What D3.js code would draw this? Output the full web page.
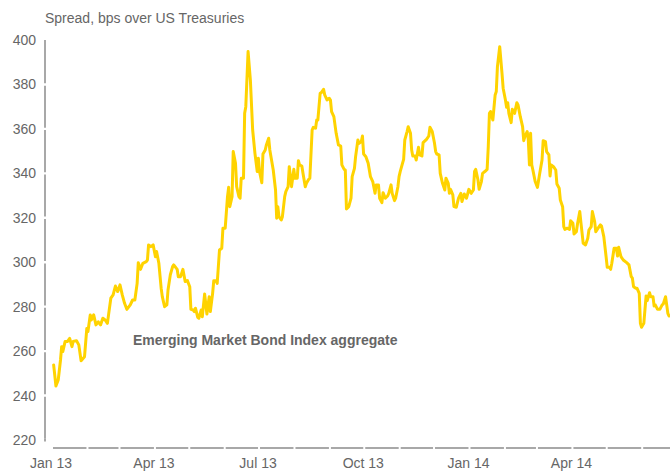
<!DOCTYPE html>
<html>
<head>
<meta charset="utf-8">
<script src="https://cdn.jsdelivr.net/npm/d3@7/dist/d3.min.js"></script>
<style>
  html, body { margin: 0; padding: 0; background: #fff; }
  svg { display: block; font-family: "Liberation Sans", Arial, sans-serif; }
</style>
</head>
<body>
<svg id="chart" width="670" height="473"></svg>
<script>
// EMBI aggregate spread over US Treasuries (bps)
const dates = [
  "2013-01-02","2013-01-04","2013-01-06","2013-01-08","2013-01-09","2013-01-10","2013-01-12","2013-01-14","2013-01-16","2013-01-18",
  "2013-01-19","2013-01-22","2013-01-24","2013-01-26","2013-01-29","2013-01-31","2013-02-01","2013-02-03","2013-02-04","2013-02-06",
  "2013-02-08","2013-02-10","2013-02-12","2013-02-14","2013-02-16","2013-02-18","2013-02-19","2013-02-21","2013-02-23","2013-02-25",
  "2013-02-27","2013-03-01","2013-03-03","2013-03-05","2013-03-07","2013-03-10","2013-03-12","2013-03-14","2013-03-16","2013-03-17",
  "2013-03-19","2013-03-21","2013-03-24","2013-03-25","2013-03-26","2013-03-28","2013-03-30","2013-04-01","2013-04-02","2013-04-04",
  "2013-04-06","2013-04-07","2013-04-09","2013-04-11","2013-04-12","2013-04-14","2013-04-16","2013-04-17","2013-04-20","2013-04-21",
  "2013-04-23","2013-04-25","2013-04-27","2013-04-29","2013-05-01","2013-05-02","2013-05-04","2013-05-05","2013-05-06","2013-05-08",
  "2013-05-09","2013-05-11","2013-05-12","2013-05-14","2013-05-16","2013-05-18","2013-05-19","2013-05-21","2013-05-22","2013-05-24",
  "2013-05-25","2013-05-27","2013-05-29","2013-05-30","2013-06-01","2013-06-03","2013-06-04","2013-06-05","2013-06-07","2013-06-08",
  "2013-06-10","2013-06-11","2013-06-13","2013-06-14","2013-06-15","2013-06-17","2013-06-18","2013-06-19","2013-06-21","2013-06-23",
  "2013-06-25","2013-06-27","2013-06-29","2013-06-30","2013-07-01","2013-07-03","2013-07-04","2013-07-06","2013-07-07","2013-07-09",
  "2013-07-10","2013-07-13","2013-07-15","2013-07-16","2013-07-17","2013-07-18","2013-07-20","2013-07-21","2013-07-23","2013-07-24",
  "2013-07-26","2013-07-27","2013-07-29","2013-07-31","2013-08-01","2013-08-03","2013-08-04","2013-08-05","2013-08-07","2013-08-08",
  "2013-08-10","2013-08-11","2013-08-13","2013-08-14","2013-08-16","2013-08-17","2013-08-19","2013-08-20","2013-08-21","2013-08-23",
  "2013-08-24","2013-08-26","2013-08-27","2013-08-29","2013-08-31","2013-09-01","2013-09-02","2013-09-04","2013-09-06","2013-09-08",
  "2013-09-10","2013-09-11","2013-09-13","2013-09-14","2013-09-15","2013-09-17","2013-09-19","2013-09-20","2013-09-22","2013-09-23",
  "2013-09-25","2013-09-26","2013-09-28","2013-09-29","2013-09-30","2013-10-02","2013-10-04","2013-10-06","2013-10-08","2013-10-10",
  "2013-10-11","2013-10-13","2013-10-14","2013-10-16","2013-10-17","2013-10-19","2013-10-21","2013-10-22","2013-10-24","2013-10-25",
  "2013-10-27","2013-10-28","2013-10-30","2013-10-31","2013-11-01","2013-11-03","2013-11-04","2013-11-05","2013-11-07","2013-11-08",
  "2013-11-10","2013-11-11","2013-11-12","2013-11-14","2013-11-15","2013-11-17","2013-11-18","2013-11-20","2013-11-21","2013-11-24",
  "2013-11-26","2013-11-27","2013-11-29","2013-12-01","2013-12-02","2013-12-03","2013-12-05","2013-12-06","2013-12-08","2013-12-10",
  "2013-12-11","2013-12-13","2013-12-14","2013-12-15","2013-12-17","2013-12-18","2013-12-20","2013-12-22","2013-12-24","2013-12-25",
  "2013-12-27","2013-12-29","2013-12-31","2014-01-02","2014-01-04","2014-01-05","2014-01-06","2014-01-08","2014-01-09","2014-01-11",
  "2014-01-12","2014-01-14","2014-01-16","2014-01-17","2014-01-18","2014-01-19","2014-01-21","2014-01-23","2014-01-24","2014-01-25",
  "2014-01-27","2014-01-29","2014-01-30","2014-02-01","2014-02-02","2014-02-03","2014-02-04","2014-02-06","2014-02-07","2014-02-09",
  "2014-02-11","2014-02-12","2014-02-14","2014-02-16","2014-02-17","2014-02-18","2014-02-20","2014-02-21","2014-02-22","2014-02-23",
  "2014-02-24","2014-02-25","2014-02-27","2014-03-01","2014-03-03","2014-03-05","2014-03-06","2014-03-08","2014-03-09","2014-03-11",
  "2014-03-12","2014-03-13","2014-03-15","2014-03-17","2014-03-18","2014-03-20","2014-03-21","2014-03-23","2014-03-24","2014-03-25",
  "2014-03-27","2014-03-29","2014-03-30","2014-04-01","2014-04-02","2014-04-04","2014-04-05","2014-04-07","2014-04-08","2014-04-10",
  "2014-04-12","2014-04-14","2014-04-15","2014-04-17","2014-04-18","2014-04-20","2014-04-21","2014-04-23","2014-04-25","2014-04-26",
  "2014-04-28","2014-04-30","2014-05-01","2014-05-03","2014-05-04","2014-05-05","2014-05-07","2014-05-09","2014-05-10","2014-05-11",
  "2014-05-13","2014-05-15","2014-05-18","2014-05-20","2014-05-22","2014-05-23","2014-05-24","2014-05-26","2014-05-27","2014-05-29",
  "2014-05-30","2014-05-31","2014-06-02","2014-06-03","2014-06-04","2014-06-05","2014-06-07","2014-06-08","2014-06-10","2014-06-11",
  "2014-06-12","2014-06-14","2014-06-16","2014-06-18","2014-06-19","2014-06-21","2014-06-22","2014-06-23","2014-06-24"
];
const spreads = [
  253.8,244.3,247,256,262,259.8,264.3,264.3,265.7,262,
  264.3,264.7,262.8,255.7,257.5,270.2,268.8,276.3,274,276.3,
  271.8,273.2,271.8,274.8,274,272.5,276.3,283.8,285.3,289.3,
  286.8,289.8,285.3,281.5,278.8,280.8,283,283,290.5,299.8,
  296.8,299.5,300.3,301,307.8,307,307.8,302.5,304.8,299.5,
  288.3,284.5,280,280.8,287.5,294.3,298,298.8,296.8,293.5,
  293.5,296.8,291.3,291.7,289,278.8,278.5,277.8,279.3,275.2,
  274.8,278.5,275.5,285.7,276.7,284.5,277.8,286,291.7,291.7,
  290.5,305.5,306.3,315.3,315.3,329.5,333.7,325,329.5,349.8,
  344.5,334,329.5,328.8,337.8,337.8,367,370,394.8,382,
  359.5,349,340.8,346.8,340.8,335.8,348.7,350.5,352.8,355.8,
  350.5,341.5,332.5,319.8,325,320.5,319,320.5,329.5,331.8,
  334,343,334,341.8,337.8,337.8,345.7,343.8,343.3,340,
  334,335.5,337.3,337.8,359.5,360.7,360.3,364,364,376,
  376.3,377.8,375.3,373,373.8,373,367.8,365.5,358,352.8,
  352.3,343.8,341.8,341.5,324,325,328.8,338.5,342.2,347.5,
  355,353.5,354.3,356.8,348.7,347.5,344.5,338.5,336.3,331,
  334.8,334.8,328.8,326.8,331.3,328.8,329.8,331,334.8,331,
  327.7,328.8,334,338.5,340.8,344.5,346.3,355,358.8,361,
  358,350.5,347.8,347.8,346,351.7,348.3,347.8,353.8,355.3,
  356.8,360.7,358.8,353.5,349.8,348.7,348.3,340,335.5,332.5,
  337.8,335.5,331,332.8,330.3,325,324.7,328.8,331,327.3,
  330.7,328.8,332.8,331,332.5,340.8,341.8,337,332.8,336.3,
  340,340.8,341.8,352,367,367.8,364,375.3,376.8,388,
  397,385,378.3,373,369.7,371.8,367,362.8,368.8,367,
  371.8,370.8,365.5,361,354.7,356.5,358.8,355,343.8,358,
  343.8,341.5,336.3,333.7,340,346,354.7,354.3,349.8,348.3,
  338.8,343.8,343,341.5,335.2,333.3,328,325,316,314.8,
  315.3,314.8,318.7,317.5,312.7,313.7,317.2,322.8,317.8,308.5,
  307.8,310.8,314.5,316,322.8,318.3,313.7,315.3,316.8,316.3,
  311.5,302.5,297.7,297.7,296.8,299.5,306.3,306.3,302.8,306.7,
  302.5,301,299.8,298.8,293.5,292.8,289,288.3,288.3,286,
  272.5,270.7,272.5,278.8,284.8,282.7,286.3,284.5,284.5,280.3,
  280.8,278.8,278.8,280.8,281.2,284.5,280.8,277,275.8
];

const yTicks = [220, 240, 260, 280, 300, 320, 340, 360, 380, 400];
const xTickDates = ["2013-01-01","2013-04-01","2013-07-01","2013-10-01","2014-01-01","2014-04-01"];
const xTickLabels = ["Jan 13","Apr 13","Jul 13","Oct 13","Jan 14","Apr 14"];
const yTitle = "Spread, bps over US Treasuries";
const seriesLabel = "Emerging Market Bond Index aggregate";

const parse = d3.timeParse("%Y-%m-%d");
const data = dates.map((d, i) => ({ date: parse(d), value: spreads[i] }));

const svg = d3.select("#chart");
const W = 670, H = 473;

const x = d3.scaleTime()
  .domain([parse("2013-01-01"), parse("2014-07-01")])
  .range([52.5, 677]);
const y = d3.scaleLinear().domain([220, 400]).range([440, 40]);

const axisGrey = "#a8a8a8";
const textGrey = "#666666";

// Y axis: labels from d3.axisLeft, rail drawn as short segments between ticks
const yAxis = svg.append("g")
  .attr("transform", "translate(36,0)")
  .call(d3.axisLeft(y).tickValues(yTicks).tickSize(0).tickPadding(0).tickFormat(d3.format("d")));
yAxis.select(".domain").remove();
yAxis.selectAll("text")
  .attr("fill", textGrey)
  .style("font-size", "14px")
  .style("font-family", "Liberation Sans, Arial, sans-serif");

const ySegs = d3.pairs(yTicks.slice().sort((a, b) => b - a));
svg.append("g").selectAll("line").data(ySegs).join("line")
  .attr("x1", 45).attr("x2", 45)
  .attr("y1", (d, i) => y(d[0]) + (i === 0 ? 0 : 1.2))
  .attr("y2", d => y(d[1]) - 1.2)
  .attr("stroke", axisGrey).attr("stroke-width", 2);
// short tail below the lowest tick
svg.append("line")
  .attr("x1", 45).attr("x2", 45)
  .attr("y1", y(220) - 1.2).attr("y2", y(220) + 1.5)
  .attr("stroke", axisGrey).attr("stroke-width", 2);

// X axis: monthly dashes
const months = d3.timeMonths(parse("2013-01-01"), parse("2014-07-02"));
const monthPairs = d3.pairs(months);
svg.append("g").selectAll("line").data(monthPairs).join("line")
  .attr("x1", d => x(d[0]) + 0.5)
  .attr("x2", d => x(d[1]) - 1.5)
  .attr("y1", 448).attr("y2", 448)
  .attr("stroke", axisGrey).attr("stroke-width", 2);

const xAxis = svg.append("g")
  .attr("transform", "translate(-2,454)")
  .call(d3.axisBottom(x)
    .tickValues(xTickDates.map(parse))
    .tickSize(0).tickPadding(4)
    .tickFormat((d, i) => xTickLabels[i]));
xAxis.select(".domain").remove();
xAxis.selectAll("text")
  .attr("fill", textGrey)
  .style("font-size", "14px")
  .style("font-family", "Liberation Sans, Arial, sans-serif");

// Axis title
svg.append("text")
  .attr("x", 45).attr("y", 23)
  .attr("fill", textGrey)
  .style("font-size", "14px")
  .text(yTitle);

// Spread line
const line = d3.line().x(d => x(d.date)).y(d => y(d.value));
svg.append("path")
  .datum(data)
  .attr("d", line)
  .attr("fill", "none")
  .attr("stroke", "#ffd300")
  .attr("stroke-width", 3)
  .attr("stroke-linejoin", "round")
  .attr("stroke-linecap", "round");

// Series label
svg.append("text")
  .attr("x", 133).attr("y", 345)
  .attr("fill", textGrey)
  .style("font-size", "14px")
  .style("font-weight", "bold")
  .text(seriesLabel);
</script>
</body>
</html>
